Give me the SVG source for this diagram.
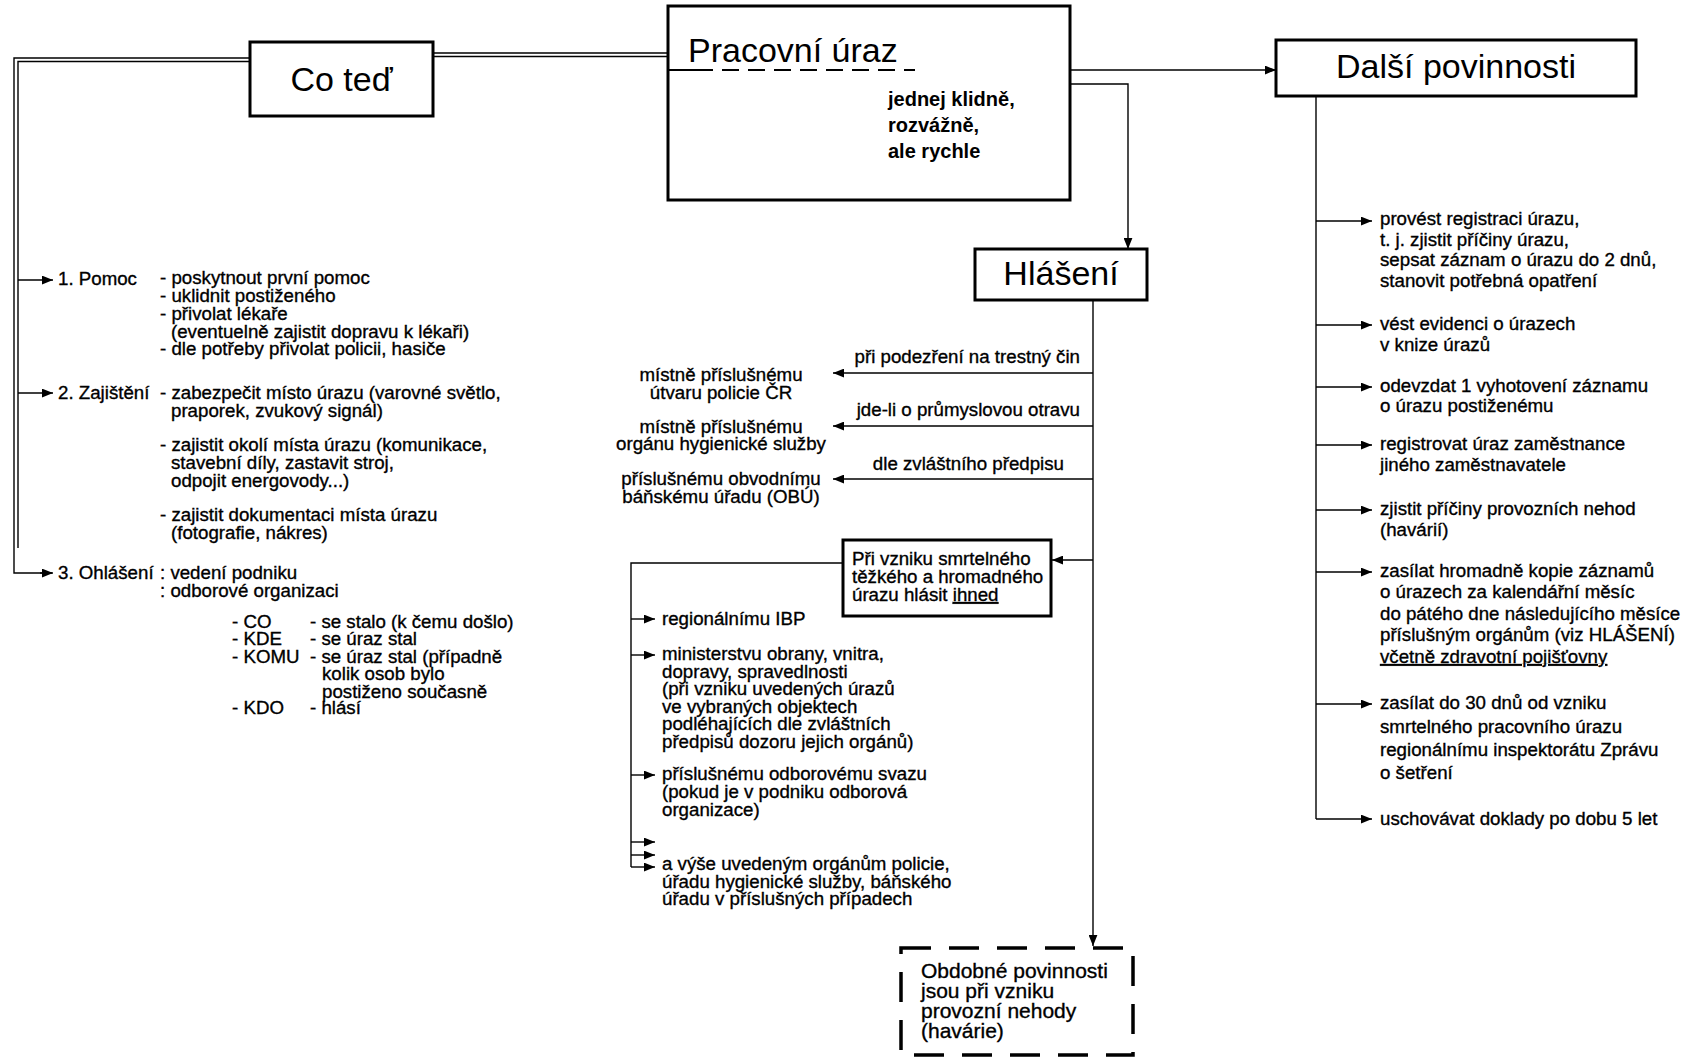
<svg xmlns="http://www.w3.org/2000/svg" width="1686" height="1058" viewBox="0 0 1686 1058">
<style>
text{font-family:"Liberation Sans",Arial,sans-serif;fill:#000}
.b{font-size:18.7px;stroke:#000;stroke-width:0.35}
.h{font-size:34px}
.bold{font-size:20px;font-weight:bold}
.box{fill:#fff;stroke:#000;stroke-width:3}
.ln{fill:none;stroke:#000;stroke-width:1.4}
.ar{fill:none;stroke:#000;stroke-width:1.4;marker-end:url(#ah)}
</style>
<defs>
<marker id="ah" viewBox="0 0 10 8" refX="10" refY="4" markerWidth="11" markerHeight="9" markerUnits="userSpaceOnUse" orient="auto"><path d="M0,0 L10,4 L0,8 z" fill="#000"/></marker>
</defs>
<rect width="1686" height="1058" fill="#fff"/>

<g id="connectors">
<!-- double line Pracovni -> Co ted -> left -->
<path class="ln" d="M433,53 H668 M433,56.5 H668"/>
<path class="ln" d="M250,58 H14 V573 H52"/>
<path class="ln" d="M250,61.5 H18 V548"/>
<path class="ar" d="M18,280 H53"/>
<path class="ar" d="M18,393 H53"/>
<path class="ar" d="M40,573 H53"/>
<!-- Pracovni -> Dalsi -->
<path class="ar" d="M1070,70 H1276"/>
<!-- Pracovni -> Hlaseni -->
<path class="ar" d="M1070,84 H1128 V249"/>
<!-- Hlaseni trunk -->
<path class="ar" d="M1093,300 V946"/>
<path class="ar" d="M1093,373 H833"/>
<path class="ar" d="M1093,426 H833"/>
<path class="ar" d="M1093,479 H833"/>
<path class="ar" d="M1093,560 H1052"/>
<!-- from Pri vzniku box -->
<path class="ln" d="M843,563 H631 V867"/>
<path class="ar" d="M631,619 H655"/>
<path class="ar" d="M631,655 H655"/>
<path class="ar" d="M631,775 H655"/>
<path class="ar" d="M631,842 H655"/>
<path class="ar" d="M631,855 H655"/>
<path class="ar" d="M631,867 H655"/>
<!-- Dalsi povinnosti trunk -->
<path class="ln" d="M1316,96 V819"/>
<path class="ar" d="M1316,221 H1372"/>
<path class="ar" d="M1316,325 H1372"/>
<path class="ar" d="M1316,387 H1372"/>
<path class="ar" d="M1316,445 H1372"/>
<path class="ar" d="M1316,510 H1372"/>
<path class="ar" d="M1316,572 H1372"/>
<path class="ar" d="M1316,704 H1372"/>
<path class="ar" d="M1316,819 H1372"/>
</g>

<g id="co-ted">
<rect class="box" x="250" y="42" width="183" height="74"/>
<text class="h" x="341.5" y="91" text-anchor="middle">Co teď</text>
</g>

<g id="pracovni-uraz">
<rect class="box" x="668" y="6" width="402" height="194"/>
<text class="h" x="688" y="62">Pracovní úraz</text>
<path d="M668,70 H713" stroke="#000" stroke-width="2" fill="none"/>
<path d="M722,70 H915" stroke="#000" stroke-width="2" fill="none" stroke-dasharray="17 9"/>
<text class="bold" x="888" y="106">jednej klidně,</text>
<text class="bold" x="888" y="132">rozvážně,</text>
<text class="bold" x="888" y="158">ale rychle</text>
</g>

<g id="dalsi-povinnosti">
<rect class="box" x="1276" y="40" width="360" height="56"/>
<text class="h" x="1456" y="78" text-anchor="middle">Další povinnosti</text>
</g>

<g id="hlaseni">
<rect class="box" x="975" y="249" width="172" height="51"/>
<text class="h" x="1061" y="285" text-anchor="middle">Hlášení</text>
</g>

<g id="pomoc">
<text class="b" x="58" y="285">1. Pomoc</text>
<text class="b" x="160" y="284">- poskytnout první pomoc</text>
<text class="b" x="160" y="302">- uklidnit postiženého</text>
<text class="b" x="160" y="320">- přivolat lékaře</text>
<text class="b" x="171" y="338">(eventuelně zajistit dopravu k lékaři)</text>
<text class="b" x="160" y="355">- dle potřeby přivolat policii, hasiče</text>
</g>

<g id="zajisteni">
<text class="b" x="58" y="399">2. Zajištění</text>
<text class="b" x="160" y="399">- zabezpečit místo úrazu (varovné světlo,</text>
<text class="b" x="171" y="417">praporek, zvukový signál)</text>
<text class="b" x="160" y="451">- zajistit okolí místa úrazu (komunikace,</text>
<text class="b" x="171" y="469">stavební díly, zastavit stroj,</text>
<text class="b" x="171" y="487">odpojit energovody...)</text>
<text class="b" x="160" y="521">- zajistit dokumentaci místa úrazu</text>
<text class="b" x="171" y="539">(fotografie, nákres)</text>
</g>

<g id="ohlaseni">
<text class="b" x="58" y="579">3. Ohlášení</text>
<text class="b" x="160" y="579">: vedení podniku</text>
<text class="b" x="160" y="597">: odborové organizaci</text>
<text class="b" x="232" y="628">- CO</text>
<text class="b" x="310" y="628">- se stalo (k čemu došlo)</text>
<text class="b" x="232" y="645">- KDE</text>
<text class="b" x="310" y="645">- se úraz stal</text>
<text class="b" x="232" y="663">- KOMU</text>
<text class="b" x="310" y="663">- se úraz stal (případně</text>
<text class="b" x="322" y="680">kolik osob bylo</text>
<text class="b" x="322" y="698">postiženo současně</text>
<text class="b" x="232" y="714">- KDO</text>
<text class="b" x="310" y="714">- hlásí</text>
</g>

<g id="hlaseni-labels">
<text class="b" x="1080" y="363" text-anchor="end">při podezření na trestný čin</text>
<text class="b" x="1080" y="416" text-anchor="end">jde-li o průmyslovou otravu</text>
<text class="b" x="1064" y="470" text-anchor="end">dle zvláštního předpisu</text>
</g>

<g id="policie">
<text class="b" x="721" y="381" text-anchor="middle">místně příslušnému</text>
<text class="b" x="721" y="399" text-anchor="middle">útvaru policie ČR</text>
</g>
<g id="hygiena">
<text class="b" x="721" y="433" text-anchor="middle">místně příslušnému</text>
<text class="b" x="721" y="450" text-anchor="middle">orgánu hygienické služby</text>
</g>
<g id="obu">
<text class="b" x="721" y="485" text-anchor="middle">příslušnému obvodnímu</text>
<text class="b" x="721" y="503" text-anchor="middle">báňskému úřadu (OBÚ)</text>
</g>

<g id="pri-vzniku">
<rect class="box" x="843" y="540" width="208" height="76"/>
<text class="b" x="852" y="565">Při vzniku smrtelného</text>
<text class="b" x="852" y="583">těžkého a hromadného</text>
<text class="b" x="852" y="601">úrazu hlásit <tspan text-decoration="underline">ihned</tspan></text>
</g>

<g id="ibp">
<text class="b" x="662" y="625">regionálnímu IBP</text>
</g>
<g id="ministerstvu">
<text class="b" x="662" y="660">ministerstvu obrany, vnitra,</text>
<text class="b" x="662" y="677.6">dopravy, spravedlnosti</text>
<text class="b" x="662" y="695.2">(při vzniku uvedených úrazů</text>
<text class="b" x="662" y="712.8">ve vybraných objektech</text>
<text class="b" x="662" y="730.4">podléhajících dle zvláštních</text>
<text class="b" x="662" y="748">předpisů dozoru jejich orgánů)</text>
</g>
<g id="odborovy-svaz">
<text class="b" x="662" y="780">příslušnému odborovému svazu</text>
<text class="b" x="662" y="798">(pokud je v podniku odborová</text>
<text class="b" x="662" y="816">organizace)</text>
</g>
<g id="vyse-uvedenym">
<text class="b" x="662" y="870">a výše uvedeným orgánům policie,</text>
<text class="b" x="662" y="887.5">úřadu hygienické služby, báňského</text>
<text class="b" x="662" y="905">úřadu v příslušných případech</text>
</g>

<g id="obdobne">
<rect x="901" y="948" width="232" height="107" fill="#fff" stroke="#000" stroke-width="3.5" stroke-dasharray="30 18"/>
<text x="921" y="978" style="font-size:21px;stroke:#000;stroke-width:0.35">Obdobné povinnosti</text>
<text x="921" y="998" style="font-size:21px;stroke:#000;stroke-width:0.35">jsou při vzniku</text>
<text x="921" y="1018" style="font-size:21px;stroke:#000;stroke-width:0.35">provozní nehody</text>
<text x="921" y="1038" style="font-size:21px;stroke:#000;stroke-width:0.35">(havárie)</text>
</g>

<g id="registrace">
<text class="b" x="1380" y="225">provést registraci úrazu,</text>
<text class="b" x="1380" y="246">t. j. zjistit příčiny úrazu,</text>
<text class="b" x="1380" y="266">sepsat záznam o úrazu do 2 dnů,</text>
<text class="b" x="1380" y="287">stanovit potřebná opatření</text>
</g>
<g id="evidence">
<text class="b" x="1380" y="330">vést evidenci o úrazech</text>
<text class="b" x="1380" y="351">v knize úrazů</text>
</g>
<g id="odevzdat">
<text class="b" x="1380" y="392">odevzdat 1 vyhotovení záznamu</text>
<text class="b" x="1380" y="412">o úrazu postiženému</text>
</g>
<g id="registrovat">
<text class="b" x="1380" y="450">registrovat úraz zaměstnance</text>
<text class="b" x="1380" y="471">jiného zaměstnavatele</text>
</g>
<g id="zjistit">
<text class="b" x="1380" y="515">zjistit příčiny provozních nehod</text>
<text class="b" x="1380" y="536">(havárií)</text>
</g>
<g id="zasilat-kopie">
<text class="b" x="1380" y="577">zasílat hromadně kopie záznamů</text>
<text class="b" x="1380" y="598">o úrazech za kalendářní měsíc</text>
<text class="b" x="1380" y="620">do pátého dne následujícího měsíce</text>
<text class="b" x="1380" y="641">příslušným orgánům (viz HLÁŠENÍ)</text>
<text class="b" x="1380" y="663" text-decoration="underline">včetně zdravotní pojišťovny</text>
</g>
<g id="zasilat-zpravu">
<text class="b" x="1380" y="709">zasílat do 30 dnů od vzniku</text>
<text class="b" x="1380" y="733">smrtelného pracovního úrazu</text>
<text class="b" x="1380" y="756">regionálnímu inspektorátu Zprávu</text>
<text class="b" x="1380" y="779">o šetření</text>
</g>
<g id="uschovavat">
<text class="b" x="1380" y="825">uschovávat doklady po dobu 5 let</text>
</g>
</svg>
